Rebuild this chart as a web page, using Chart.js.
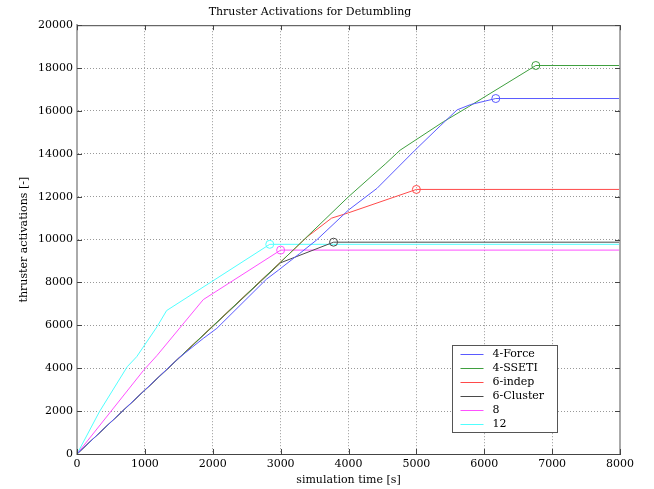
<!DOCTYPE html>
<html lang="en">
<head>
    <meta charset="UTF-8">
    <title>Thruster Activations for Detumbling</title>
    <script src="https://cdn.jsdelivr.net/npm/chart.js"></script>
    <style>
        html, body { margin: 0; padding: 0; background: #fff; }
        #wrap { width: 654px; height: 489px; }
    </style>
</head>
<body>
    <div id="wrap"><canvas id="graphique"></canvas></div>

    <script>
        // Series names, in legend order
        const seriesNames = ['4-Force', '4-SSETI', '6-indep', '6-Cluster', '8', '12'];
        const seriesColors = ['#5a5aff', '#3f9f3f', '#ff4a4a', '#4a4a4a', '#ff50ff', '#50ffff'];

        // simulation time [s] / thruster activations
        const forceTime  = [0, 1500, 1860, 2060, 2790, 2970, 3280, 3530, 4000, 4420, 4980, 5350, 5600, 5800, 6170, 8000];
        const forceActs  = [0, 4480, 5390, 5860, 8150, 8580, 9350, 9980, 11380, 12390, 14170, 15300, 16050, 16300, 16580, 16580];

        const ssetiTime  = [0, 3000, 4000, 4550, 4760, 5400, 5770, 6760, 8000];
        const ssetiActs  = [0, 8950, 12000, 13550, 14170, 15500, 16200, 18120, 18120];

        const indepTime  = [0, 3400, 3750, 4000, 5000, 8000];
        const indepActs  = [0, 10150, 11000, 11250, 12340, 12340];

        const clusterTime = [0, 3000, 3780, 8000];
        const clusterActs = [0, 8920, 9880, 9880];

        const eightTime  = [0, 980, 1180, 1860, 3000, 8000];
        const eightActs  = [0, 3900, 4600, 7200, 9510, 9510];

        const twelveTime = [0, 330, 740, 880, 1180, 1320, 1980, 2840, 8000];
        const twelveActs = [0, 1970, 4070, 4540, 5940, 6690, 8030, 9780, 9780];

        const allTimes = [forceTime, ssetiTime, indepTime, clusterTime, eightTime, twelveTime];
        const allActs  = [forceActs, ssetiActs, indepActs, clusterActs, eightActs, twelveActs];

        const xTicks = [0, 1000, 2000, 3000, 4000, 5000, 6000, 7000, 8000];
        const yTicks = [0, 2000, 4000, 6000, 8000, 10000, 12000, 14000, 16000, 18000, 20000];

        const FONT = 'DejaVu Serif';

        const datasets = seriesNames.map((name, i) => ({
            label: name,
            data: allTimes[i].map((t, k) => ({ x: t, y: allActs[i][k] })),
            borderColor: seriesColors[i],
            backgroundColor: 'transparent',
            borderWidth: 1,
            showLine: true,
            tension: 0,
            // circle on the point where the count stops growing
            pointRadius: ctx => ctx.dataIndex === allTimes[i].length - 2 ? 4 : 0,
            pointBorderWidth: 1,
            pointBorderColor: seriesColors[i],
            pointBackgroundColor: 'transparent',
            pointHoverRadius: 0
        }));

        // box, inward ticks and legend, matlab style
        const matlabFrame = {
            id: 'matlabFrame',
            afterDraw(chart) {
                const c = chart.ctx;
                const a = chart.chartArea;
                const sx = chart.scales.x, sy = chart.scales.y;
                c.save();
                c.lineWidth = 1;
                c.strokeStyle = '#444';
                c.beginPath();
                c.moveTo(a.left, a.top + 0.5); c.lineTo(a.right, a.top + 0.5);
                c.stroke();
                c.strokeStyle = '#aaa';
                c.lineWidth = 2;
                c.beginPath();
                c.moveTo(a.right, a.top); c.lineTo(a.right, a.bottom);
                c.stroke();

                c.strokeStyle = '#444';
                c.lineWidth = 1;
                c.beginPath();
                xTicks.forEach(v => {
                    const px = Math.round(sx.getPixelForValue(v)) + 0.5;
                    c.moveTo(px, a.bottom); c.lineTo(px, a.bottom - 5);
                    c.moveTo(px, a.top); c.lineTo(px, a.top + 5);
                });
                yTicks.forEach(v => {
                    const py = Math.round(sy.getPixelForValue(v)) + 0.5;
                    c.moveTo(a.left, py); c.lineTo(a.left + 5, py);
                    c.moveTo(a.right, py); c.lineTo(a.right - 5, py);
                });
                c.stroke();

                // legend
                const lx = 452.5, ly = 345.5, lw = 105, lh = 87;
                c.fillStyle = '#fff';
                c.fillRect(lx, ly, lw, lh);
                c.strokeStyle = '#555';
                c.strokeRect(lx, ly, lw, lh);
                c.font = '11px "' + FONT + '"';
                c.textBaseline = 'middle';
                chart.data.datasets.forEach((ds, i) => {
                    const y = Math.round(ly + 8 + i * 14) + 0.5;
                    c.strokeStyle = ds.borderColor;
                    c.beginPath();
                    c.moveTo(lx + 8, y); c.lineTo(lx + 31, y);
                    c.stroke();
                    c.fillStyle = '#000';
                    c.fillText(ds.label, lx + 40, y);
                });
                c.restore();
            }
        };

        const ctx = document.getElementById('graphique').getContext('2d');
        const myChart = new Chart(ctx, {
            type: 'scatter',
            data: { datasets: datasets },
            plugins: [matlabFrame],
            options: {
                responsive: true,
                maintainAspectRatio: false,
                animation: false,
                events: [],
                layout: { padding: { left: 0, right: 34, top: 0, bottom: 0 } },
                plugins: {
                    legend: { display: false },
                    tooltip: { enabled: false },
                    title: {
                        display: true,
                        text: 'Thruster Activations for Detumbling',
                        color: '#000',
                        font: { family: FONT, size: 11, weight: 'normal' },
                        padding: { top: 6, bottom: 6 }
                    }
                },
                scales: {
                    x: {
                        type: 'linear',
                        min: 0,
                        max: 8000,
                        afterBuildTicks: s => { s.ticks = xTicks.map(v => ({ value: v })); },
                        afterFit: s => { s.height = 35; },
                        ticks: {
                            color: '#000',
                            font: { family: FONT, size: 11 },
                            padding: 4,
                            maxRotation: 0,
                            callback: v => v
                        },
                        grid: {
                            color: ctx => (ctx.tick && (ctx.tick.value === 0 || ctx.tick.value === 8000)) ? 'transparent' : '#999',
                            drawTicks: false
                        },
                        border: { display: true, color: '#444', width: 1, dash: [1, 2] },
                        title: {
                            display: true,
                            text: 'simulation time [s]',
                            color: '#000',
                            font: { family: FONT, size: 11 },
                            padding: { top: 2, bottom: 2 }
                        }
                    },
                    y: {
                        min: 0,
                        max: 20000,
                        afterBuildTicks: s => { s.ticks = yTicks.map(v => ({ value: v })); },
                        afterFit: s => { s.width = 77; },
                        ticks: {
                            color: '#000',
                            font: { family: FONT, size: 11 },
                            padding: 4,
                            callback: v => v
                        },
                        grid: {
                            color: ctx => (ctx.tick && (ctx.tick.value === 0 || ctx.tick.value === 20000)) ? 'transparent' : '#999',
                            drawTicks: false
                        },
                        border: { display: true, color: '#aaa', width: 2, dash: [1, 2] },
                        title: {
                            display: true,
                            text: 'thruster activations [-]',
                            color: '#000',
                            font: { family: FONT, size: 11 },
                            padding: { top: 18, bottom: 4 }
                        }
                    }
                }
            }
        });
    </script>
</body>
</html>
